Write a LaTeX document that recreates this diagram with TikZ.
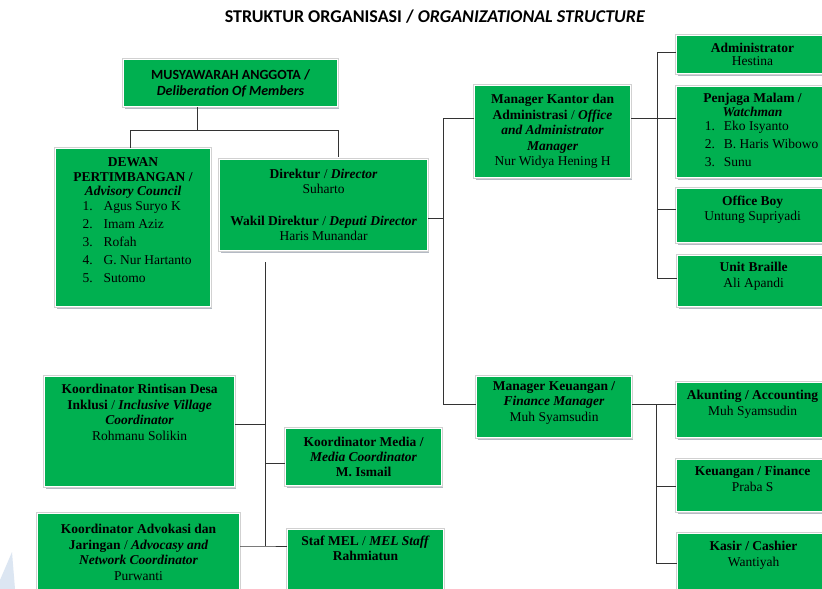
\documentclass[tikz,border=0pt]{standalone}
\usepackage{fontspec}
\setmainfont{Liberation Serif}
\newfontfamily\calfont{Carlito}
\usetikzlibrary{shadows}
\definecolor{boxgreen}{HTML}{00B050}
\definecolor{shadowgray}{HTML}{B4BAC4}
\definecolor{wmblue}{HTML}{DCE6F2}
\newcommand\bxt[4][7pt]{\begin{minipage}[t][#3pt][t]{#2pt}\centering\vspace*{#1}#4\end{minipage}}
\newcommand\bxc[3]{\begin{minipage}[t][#2pt][c]{#1pt}\centering #3\end{minipage}}
\newcommand\bi[1]{\textbf{\textit{#1}}}
\newcommand\li[2]{\makebox[#1][l]{#2}}
\tikzset{
  orgbox/.style={rectangle, fill=boxgreen, draw=white, line width=1.2pt, inner sep=0pt, anchor=north west,
    font=\fontsize{13.5}{15.5}\selectfont,
    drop shadow={shadow xshift=1.6pt, shadow yshift=-2.6pt, fill=shadowgray, opacity=1},
    preaction={draw=black!18, line width=2.8pt}},
  conn/.style={draw=black!80, line width=1pt},
}
\begin{document}
\begin{tikzpicture}[x=1pt,y=-1pt]
\useasboundingbox (0,0) rectangle (822,589);
\clip (0,0) rectangle (822,589);
\fill[white] (0,0) rectangle (822,589);
\fill[wmblue] (0,580) -- (12,552) -- (15,589) -- (0,589) -- cycle;

\node[font=\calfont\bfseries\fontsize{18}{20}\selectfont] (title) at (435,17) {STRUKTUR ORGANISASI / \textit{ORGANIZATIONAL STRUCTURE}};

\node[orgbox, font=\calfont\bfseries\fontsize{14}{16}\selectfont] (mus) at (123,59) {\bxc{214}{47}{MUSYAWARAH ANGGOTA /\\ \textit{Deliberation Of Members}}};

\node[orgbox] (dewan) at (55,148) {\bxt[9pt]{155}{158}{\textbf{DEWAN}\\[-1pt] \textbf{PERTIMBANGAN /}\\[-1.5pt] \bi{Advisory Council}\\[1pt]
  \hspace*{8pt}\begin{tabular}{@{}l@{}}\li{21pt}{1.}Agus Suryo K\\[2.5pt]\li{21pt}{2.}Imam Aziz\\[2.5pt]\li{21pt}{3.}Rofah\\[2pt]\li{21pt}{4.}G. Nur Hartanto\\[3pt]\li{21pt}{5.}Sutomo\end{tabular}}};

\node[orgbox] (dir) at (219,159) {\bxc{208}{91}{\textbf{Direktur} / \bi{Director}\\ Suharto\\[16pt] \textbf{Wakil Direktur} / \bi{Deputi Director}\\ Haris Munandar}};

\node[orgbox] (mk) at (474,85) {\bxc{156}{92}{\textbf{Manager Kantor dan}\\ \textbf{Administrasi} / \bi{Office}\\ \bi{and Administrator}\\ \bi{Manager}\\ Nur Widya Hening H}};

\node[orgbox] (adm) at (676,35) {\bxc{152}{38}{\textbf{Administrator}\\[-2pt] Hestina}};
\node[orgbox] (pen) at (676,86) {\bxc{152}{91}{\textbf{Penjaga Malam /}\\[-1pt] \bi{Watchman}\\[1.5pt]
  \hspace*{18pt}\begin{tabular}{@{}l@{}}\li{19pt}{1.}Eko Isyanto\\[2.5pt]\li{19pt}{2.}B. Haris Wibowo\\[2.5pt]\li{19pt}{3.}Sunu\end{tabular}}};
\node[orgbox] (ob) at (676,188) {\bxt{152}{54}{\textbf{Office Boy}\\ Untung Supriyadi}};
\node[orgbox] (ub) at (677,255) {\bxt{152}{51}{\textbf{Unit Braille}\\ Ali Apandi}};

\node[orgbox] (fm) at (476,376) {\bxt[5pt]{155}{61}{\textbf{Manager Keuangan /}\\ \bi{Finance Manager}\\ Muh Syamsudin}};
\node[orgbox] (ak) at (676,382) {\bxt[8pt]{152}{55}{\textbf{Akunting / Accounting}\\ Muh Syamsudin}};
\node[orgbox] (ke) at (676,459) {\bxt{152}{52}{\textbf{Keuangan / Finance}\\ Praba S}};
\node[orgbox] (ka) at (677,533) {\bxt[8pt]{152}{60}{\textbf{Kasir / Cashier}\\ Wantiyah}};

\node[orgbox] (rin) at (44,376) {\bxt[8pt]{190}{110}{\textbf{Koordinator Rintisan Desa}\\ \textbf{Inklusi} / \bi{Inclusive Village}\\ \bi{Coordinator}\\ Rohmanu Solikin}};
\node[orgbox] (med) at (285,428) {\bxc{156}{57}{\textbf{Koordinator Media /}\\[-1pt] \bi{Media Coordinator}\\ \textbf{M. Ismail}}};
\node[orgbox] (adv) at (37,513) {\bxc{202}{78}{\textbf{Koordinator Advokasi dan}\\ \textbf{Jaringan} / \bi{Advocasy and}\\ \bi{Network Coordinator}\\ Purwanti}};
\node[orgbox] (mel) at (287,529) {\bxt[6pt]{156}{62}{\textbf{Staf MEL} / \bi{MEL Staff}\\ \textbf{Rahmiatun}}};

% connectors
\coordinate (jm) at (197,130);
\coordinate (ja) at (130,130);
\coordinate (jb) at (338,130);
\draw[conn] (mus.south -| jm) -- (jm);
\draw[conn] (ja |- dewan.north) -- (ja) -- (jb) -- ([yshift=2pt]jb |- dir.north);

\coordinate (spt) at (265,262);
\coordinate (spb) at (265,546);
\draw[conn] (spt) -- (spb);
\draw[conn] (rin.east |- 0,424) -- (spt |- 0,424);
\draw[conn] (spt |- 0,463) -- (med.west |- 0,463);
\draw[conn] (adv.east |- spb) -- (spb) -- (mel.west |- spb);

\coordinate (rt) at (443,118);
\coordinate (rb) at (443,404);
\draw[conn] (dir.east |- 0,218) -- (rt |- 0,218);
\draw[conn] (mk.west |- rt) -- (rt) -- (rb) -- (fm.west |- rb);

\coordinate (at) at (657,52);
\coordinate (ab) at (657,278);
\draw[conn] (mk.east |- 0,118) -- (pen.west |- 0,118);
\draw[conn] (adm.west |- at) -- (at) -- (ab) -- (ub.west |- ab);
\draw[conn] (at |- 0,209) -- (ob.west |- 0,209);

\coordinate (ft) at (656,404);
\coordinate (fb) at (656,563);
\draw[conn] (fm.east |- ft) -- (ak.west |- ft);
\draw[conn] (ft) -- (fb) -- (ka.west |- fb);
\draw[conn] (ft |- 0,486) -- (ke.west |- 0,486);
\end{tikzpicture}
\end{document}
